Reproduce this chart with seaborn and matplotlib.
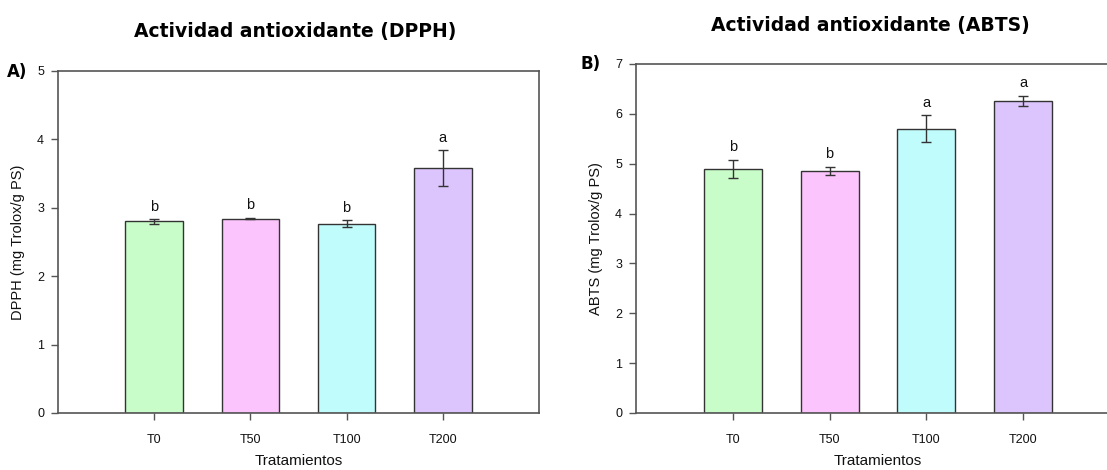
import matplotlib
matplotlib.use("Agg")
import matplotlib.pyplot as plt
import seaborn as sns
import pandas as pd

# Data
tratamientos = ["T0", "T50", "T100", "T200"]
dpph_mean = [2.80, 2.84, 2.77, 3.58]
dpph_err = [0.03, 0.01, 0.045, 0.26]
dpph_letters = ["b", "b", "b", "a"]
abts_mean = [4.90, 4.86, 5.70, 6.26]
abts_err = [0.18, 0.08, 0.27, 0.10]
abts_letters = ["b", "b", "a", "a"]
bar_colors = ["#c8fcc8", "#fcc4fc", "#c0fcfc", "#dcc4fc"]

sns.set_theme(style="white")
plt.rcParams["font.family"] = ["Liberation Sans", "DejaVu Sans"]
plt.rcParams["text.color"] = "#111111"
plt.rcParams["axes.labelcolor"] = "#111111"

title_font = dict(family="DejaVu Sans", weight="bold", size=13.5, color="black")
panel_font = dict(family="DejaVu Sans", weight="bold", size=12, color="black")

fig = plt.figure(figsize=(11.07, 4.70), dpi=100)
ax_a = fig.add_axes([0.0524, 0.1213, 0.4345, 0.7277])
ax_b = fig.add_axes([0.5745, 0.1213, 0.4372, 0.7426])


def draw_panel(ax, means, errs, letters, ymax, ylabel):
    df = pd.DataFrame({"trat": tratamientos, "val": means})
    sns.barplot(data=df, x="trat", y="val", hue="trat", palette=bar_colors,
                saturation=1, width=0.6, edgecolor="#333333", linewidth=1.0,
                legend=False, ax=ax)
    ax.errorbar(range(len(means)), means, yerr=errs, fmt="none",
                ecolor="#333333", elinewidth=1.0, capsize=3.6, capthick=1.0)
    for i, (m, e, l) in enumerate(zip(means, errs, letters)):
        ax.annotate(l, (i, m + e), xytext=(0, 4), textcoords="offset points",
                    ha="center", va="bottom", fontsize=10.5, color="#111111")
    ax.set_xlim(-1, 4)
    ax.set_ylim(0, ymax)
    ax.set_yticks(range(ymax + 1))
    ax.set_xlabel("Tratamientos", fontsize=11, labelpad=6)
    ax.set_ylabel(ylabel, fontsize=10.5, labelpad=9)
    ax.tick_params(axis="both", which="both", direction="out", length=5,
                   width=1, color="#555555", labelcolor="#111111",
                   labelsize=9, bottom=True, left=True)
    ax.tick_params(axis="x", pad=10)
    ax.tick_params(axis="y", pad=5)
    for s in ax.spines.values():
        s.set_color("#555555")
        s.set_linewidth(1.2)


draw_panel(ax_a, dpph_mean, dpph_err, dpph_letters, 5, "DPPH (mg Trolox/g PS)")
draw_panel(ax_b, abts_mean, abts_err, abts_letters, 7, "ABTS (mg Trolox/g PS)")

fig.text(295 / 1107, 1 - 31 / 470, "Actividad antioxidante (DPPH)",
         ha="center", va="center", **title_font)
fig.text(870 / 1107, 1 - 25 / 470, "Actividad antioxidante (ABTS)",
         ha="center", va="center", **title_font)
fig.text(17 / 1107, 1 - 72 / 470, "A)", ha="center", va="center", **panel_font)
fig.text(591 / 1107, 1 - 64 / 470, "B)", ha="center", va="center", **panel_font)

fig.savefig("out.png", dpi=100)
